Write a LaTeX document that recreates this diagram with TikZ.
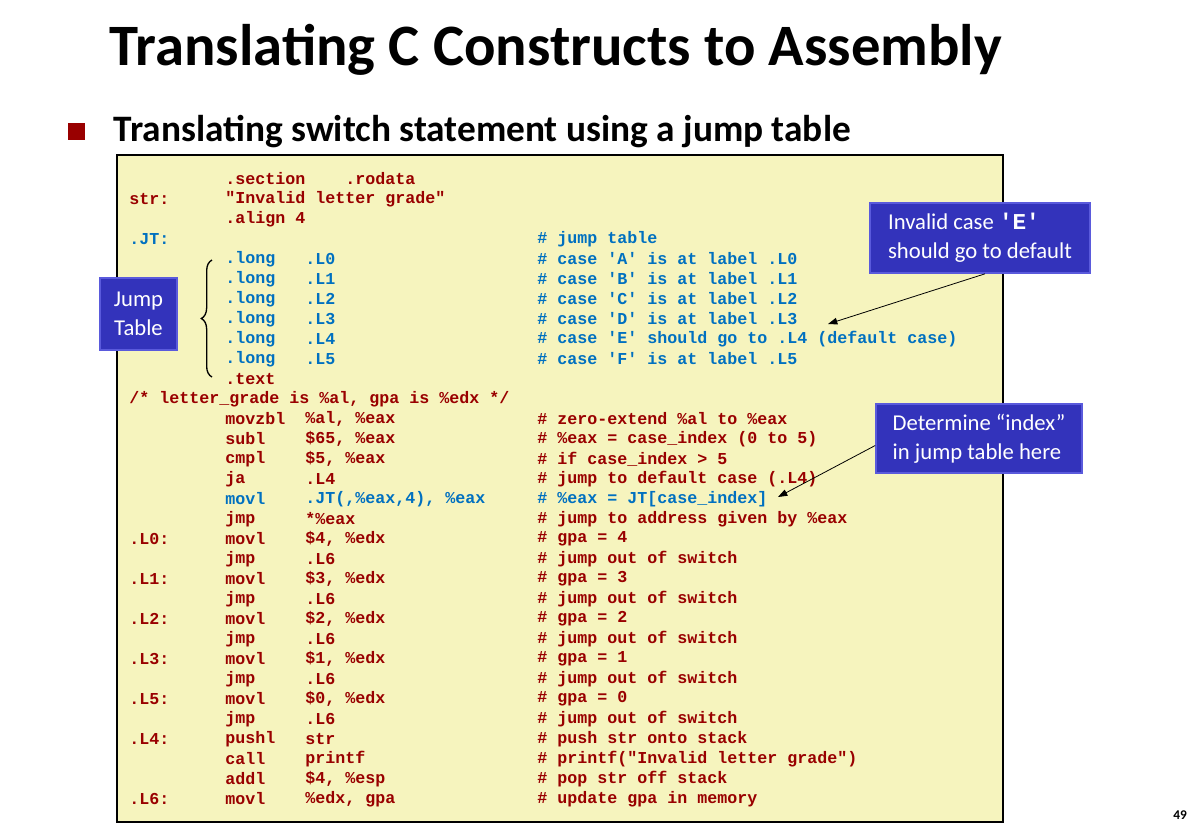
\documentclass[tikz,border=0pt]{standalone}
\usepackage{fontspec}
\setmainfont{Carlito}
\setmonofont{Liberation Mono}
\usetikzlibrary{positioning, calc, arrows.meta, decorations.pathreplacing}

\definecolor{asmred}{RGB}{153,0,0}
\definecolor{asmblue}{RGB}{0,112,192}
\definecolor{codebg}{RGB}{246,244,190}
\definecolor{callfill}{RGB}{51,51,187}
\definecolor{callrim}{RGB}{90,90,220}

% one assembly line: row, label, instruction, operand, comment, colour
\newcommand\asmline[6]{%
  \node[asm, text=#6] (lab#1) at (129, 179+20*#1) {#2};
  \node[asm, text=#6] (ins#1) at (225, 179+20*#1) {#3};
  \node[asm, text=#6] (opd#1) at (305, 179+20*#1) {#4};
  \node[asm, text=#6] (cmt#1) at (537, 179+20*#1) {#5};
}

\begin{document}
\begin{tikzpicture}[x=0.75pt, y=-0.75pt]
\tikzset{
    asm/.style={anchor=west, inner sep=0pt, font=\ttfamily\bfseries\fontsize{12.5}{14}\selectfont},
    callout/.style={rectangle, draw=callrim, line width=1.2pt, fill=callfill, text=white,
        align=left, font=\fontsize{17}{22}\selectfont, inner sep=5pt},
    pointer/.style={-{Triangle[length=7pt,width=5pt]}, line width=0.6pt}
}
    \useasboundingbox (0,0) rectangle (1199,833);

    \node[anchor=west, font=\bfseries\fontsize{44}{48}\selectfont] (title) at (105,50) {Translating C Constructs to Assembly};
    \fill[asmred] (68,123) rectangle (85,140);
    \node[anchor=west, font=\bfseries\fontsize{28}{32}\selectfont] (subtitle) at (109,132) {Translating switch statement using a jump table};

    \draw[fill=codebg, line width=0.8pt] (117,155) rectangle (1003,822);

    \asmline{0}{}{.section}{~~~~.rodata}{}{asmred}
    \asmline{1}{str:}{"Invalid letter grade"}{}{}{asmred}
    \asmline{2}{}{.align 4}{}{}{asmred}
    \asmline{3}{.JT:}{}{}{\# jump table}{asmblue}
    \asmline{4}{}{.long}{.L0}{\# case 'A' is at label .L0}{asmblue}
    \asmline{5}{}{.long}{.L1}{\# case 'B' is at label .L1}{asmblue}
    \asmline{6}{}{.long}{.L2}{\# case 'C' is at label .L2}{asmblue}
    \asmline{7}{}{.long}{.L3}{\# case 'D' is at label .L3}{asmblue}
    \asmline{8}{}{.long}{.L4}{\# case 'E' should go to .L4 (default case)}{asmblue}
    \asmline{9}{}{.long}{.L5}{\# case 'F' is at label .L5}{asmblue}
    \asmline{10}{}{.text}{}{}{asmred}
    \asmline{11}{/* letter\_grade is \%al, gpa is \%edx */}{}{}{}{asmred}
    \asmline{12}{}{movzbl}{\%al, \%eax}{\# zero-extend \%al to \%eax}{asmred}
    \asmline{13}{}{subl}{\$65, \%eax}{\# \%eax = case\_index (0 to 5)}{asmred}
    \asmline{14}{}{cmpl}{\$5, \%eax}{\# if case\_index > 5}{asmred}
    \asmline{15}{}{ja}{.L4}{\# jump to default case (.L4)}{asmred}
    \asmline{16}{}{movl}{.JT(,\%eax,4), \%eax}{\# \%eax = JT[case\_index]}{asmblue}
    \asmline{17}{}{jmp}{*\%eax}{\# jump to address given by \%eax}{asmred}
    \asmline{18}{.L0:}{movl}{\$4, \%edx}{\# gpa = 4}{asmred}
    \asmline{19}{}{jmp}{.L6}{\# jump out of switch}{asmred}
    \asmline{20}{.L1:}{movl}{\$3, \%edx}{\# gpa = 3}{asmred}
    \asmline{21}{}{jmp}{.L6}{\# jump out of switch}{asmred}
    \asmline{22}{.L2:}{movl}{\$2, \%edx}{\# gpa = 2}{asmred}
    \asmline{23}{}{jmp}{.L6}{\# jump out of switch}{asmred}
    \asmline{24}{.L3:}{movl}{\$1, \%edx}{\# gpa = 1}{asmred}
    \asmline{25}{}{jmp}{.L6}{\# jump out of switch}{asmred}
    \asmline{26}{.L5:}{movl}{\$0, \%edx}{\# gpa = 0}{asmred}
    \asmline{27}{}{jmp}{.L6}{\# jump out of switch}{asmred}
    \asmline{28}{.L4:}{pushl}{str}{\# push str onto stack}{asmred}
    \asmline{29}{}{call}{printf}{\# printf("Invalid letter grade")}{asmred}
    \asmline{30}{}{addl}{\$4, \%esp}{\# pop str off stack}{asmred}
    \asmline{31}{.L6:}{movl}{\%edx, gpa}{\# update gpa in memory}{asmred}

    % callouts
    \node[callout, minimum width=77*0.75pt, minimum height=72*0.75pt, align=center] (jtbox) at (138.5,314) {Jump\\Table};
    \draw[decorate, decoration={brace, amplitude=8pt}, line width=1pt] (212,377) -- (212,260);

    \node[callout, minimum width=220*0.75pt, minimum height=70*0.75pt] (invbox) at (980,238)
        {Invalid case {\ttfamily\bfseries 'E'}\\should go to default};
    \node[callout, minimum width=206*0.75pt, minimum height=69*0.75pt] (idxbox) at (979,438.5)
        {Determine “index”\\in jump table here};
    \coordinate (invtip) at (828,324);
    \coordinate (idxtip) at (778,497);
    \draw[pointer] ($(invbox.south)+(5,0)$) -- (invtip);
    \draw[pointer] ($(idxbox.west)+(0,7)$) -- (idxtip);

    \node[font=\bfseries\fontsize{10}{12}\selectfont] (pagenum) at (1180,815) {49};
\end{tikzpicture}
\end{document}
